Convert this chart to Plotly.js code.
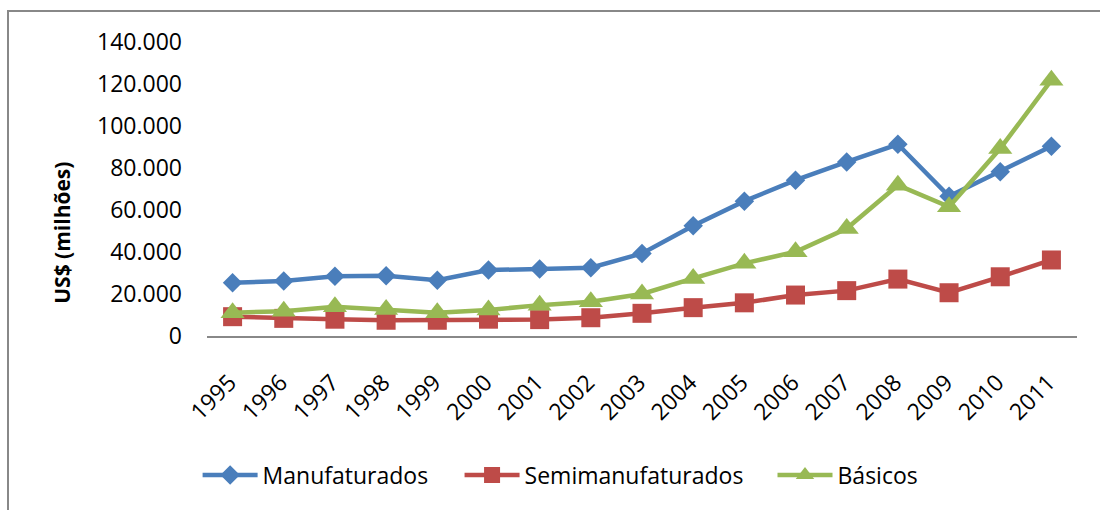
<!DOCTYPE html>
<html>
<head>
<meta charset="utf-8">
<script src="https://cdn.plot.ly/plotly-3.0.1.min.js"></script>
<style>
  html, body { margin: 0; padding: 0; background: #ffffff; }
  #wrap { position: relative; width: 1100px; height: 510px; overflow: hidden; }
  #frame { position: absolute; left: 7px; top: 10px; width: 1200px; height: 600px;
           border-left: 2.5px solid #888888; border-top: 2.5px solid #888888; pointer-events: none; }
  #chart { position: absolute; left: 0; top: 0; width: 1100px; height: 510px; }
</style>
</head>
<body>
<div id="wrap">
  <div id="chart"></div>
  <div id="frame"></div>
</div>
<script>
const years = ['1995','1996','1997','1998','1999','2000','2001','2002','2003','2004','2005','2006','2007','2008','2009','2010','2011'];
const manufaturados = [25400, 26200, 28500, 28700, 26600, 31400, 31900, 32500, 39300, 52500, 64200, 74200, 82900, 91300, 66500, 78200, 90400];
const semimanufaturados = [9200, 8400, 8000, 7500, 7500, 8000, 7800, 8700, 10800, 13500, 15800, 19500, 21600, 27100, 20600, 28200, 36200];
const basicos = [11100, 11800, 13900, 12600, 11100, 12400, 14700, 16300, 20000, 27400, 34600, 40100, 51200, 71800, 61500, 89300, 121800];
const seriesNames = ['Manufaturados', 'Semimanufaturados', 'Básicos'];
const yTitle = 'US$ (milhões)';

const FONT = 'Open Sans, Calibri, Carlito, sans-serif';

const traces = [
  { x: years, y: manufaturados, name: seriesNames[0], type: 'scatter', mode: 'lines+markers', legend: 'legend',
    line: { color: '#4A7EBB', width: 4.5 }, marker: { symbol: 'diamond', size: 15, color: '#4A7EBB' } },
  { x: years, y: semimanufaturados, name: seriesNames[1], type: 'scatter', mode: 'lines+markers', legend: 'legend2',
    line: { color: '#BE4B48', width: 4.5 }, marker: { symbol: 'square', size: 19, color: '#BE4B48' } },
  { x: years, y: basicos, name: seriesNames[2], type: 'scatter', mode: 'lines+markers', legend: 'legend3',
    line: { color: '#98B954', width: 4.5 }, marker: { symbol: 'triangle-up', size: 21, color: '#98B954' } }
];

function legendAt(x) {
  return { orientation: 'h', x: x, xanchor: 'left', y: -0.473, yanchor: 'middle',
           font: { family: FONT, size: 23, color: '#000000' }, itemwidth: 55, bgcolor: 'rgba(0,0,0,0)' };
}

const layout = {
  width: 1100, height: 510,
  margin: { l: 207, r: 23, t: 42, b: 174 },
  paper_bgcolor: '#ffffff', plot_bgcolor: '#ffffff',
  separators: ',.',
  font: { family: FONT, size: 23, color: '#000000' },
  showlegend: true,
  legend: legendAt(-0.0108),
  legend2: legendAt(0.2903),
  legend3: legendAt(0.650),
  xaxis: {
    type: 'category', range: [-0.5, 16.5], showgrid: false, zeroline: false,
    showline: true, linecolor: '#888888', linewidth: 2,
    ticks: '', tickangle: -45, ticklabelstandoff: 22, ticklabelshift: -3,
    tickfont: { family: FONT, size: 23, color: '#000000' }, fixedrange: true
  },
  yaxis: {
    range: [0, 140000], tickvals: [0, 20000, 40000, 60000, 80000, 100000, 120000, 140000],
    tickformat: ',d', showgrid: false, zeroline: false, showline: false,
    ticks: '', ticklabelstandoff: 24,
    tickfont: { family: FONT, size: 23, color: '#000000' }, fixedrange: true
  },
  annotations: [{
    text: '<b>' + yTitle + '</b>', xref: 'paper', yref: 'paper', x: -0.167, y: 0.35,
    xanchor: 'center', yanchor: 'middle', textangle: -90, showarrow: false,
    font: { family: FONT, size: 21, color: '#000000' }
  }]
};

Plotly.newPlot('chart', traces, layout, { displayModeBar: false, staticPlot: true });
</script>
</body>
</html>
